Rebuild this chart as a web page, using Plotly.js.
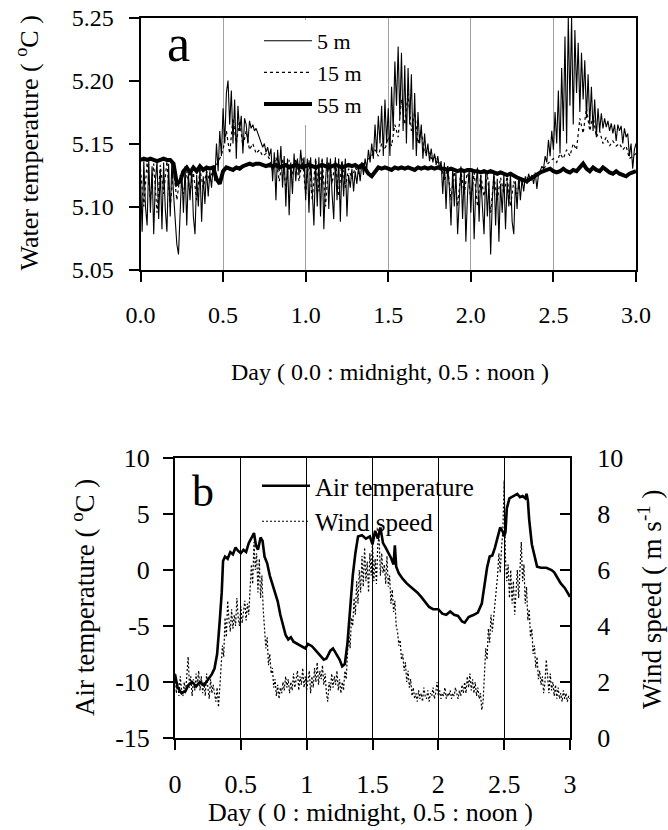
<!DOCTYPE html>
<html><head><meta charset="utf-8">
<script src="https://cdn.plot.ly/plotly-3.0.1.min.js"></script>
<style>html,body{margin:0;padding:0;background:#fff}#chart{width:668px;height:830px}</style>
</head><body><div id="chart"></div>
<script>
// ---------- Panel a: water temperature (deg C), sampled every 0.01 d (5 m) / 0.02 d (15 m, 55 m)
const temp5m = [
5.125,5.080,5.136,5.100,5.085,5.137,5.095,5.132,5.078,5.120,
5.136,5.090,5.130,5.082,5.135,5.098,5.080,5.134,5.092,5.136,
5.110,5.090,5.070,5.062,5.100,5.128,5.095,5.132,5.085,5.126,
5.105,5.130,5.092,5.078,5.125,5.100,5.131,5.088,5.124,5.102,
5.130,5.108,5.128,5.115,5.132,5.120,5.150,5.128,5.160,5.140,
5.178,5.150,5.190,5.200,5.165,5.192,5.150,5.185,5.138,5.180,
5.160,5.172,5.142,5.170,5.165,5.150,5.168,5.162,5.165,5.160,
5.162,5.158,5.155,5.150,5.147,5.150,5.143,5.147,5.140,5.146,
5.120,5.143,5.105,5.145,5.128,5.148,5.115,5.140,5.100,5.138,
5.093,5.135,5.110,5.142,5.120,5.138,5.125,5.145,5.130,5.139,
5.105,5.138,5.095,5.139,5.115,5.085,5.138,5.100,5.139,5.092,
5.138,5.082,5.120,5.139,5.098,5.138,5.110,5.090,5.139,5.105,
5.138,5.088,5.136,5.108,5.138,5.092,5.125,5.115,5.130,5.112,
5.128,5.118,5.132,5.120,5.135,5.125,5.138,5.130,5.145,5.135,
5.150,5.138,5.165,5.142,5.172,5.150,5.180,5.140,5.185,5.150,
5.178,5.140,5.195,5.160,5.215,5.180,5.227,5.170,5.222,5.160,
5.212,5.150,5.210,5.165,5.205,5.145,5.190,5.140,5.175,5.150,
5.165,5.138,5.158,5.140,5.150,5.136,5.146,5.135,5.142,5.133,
5.140,5.130,5.136,5.110,5.135,5.098,5.132,5.115,5.085,5.130,
5.100,5.127,5.078,5.108,5.132,5.090,5.128,5.072,5.110,5.130,
5.095,5.129,5.074,5.115,5.131,5.088,5.125,5.100,5.078,5.128,
5.092,5.120,5.062,5.105,5.128,5.085,5.122,5.072,5.118,5.095,
5.126,5.082,5.120,5.100,5.126,5.088,5.078,5.120,5.098,5.124,
5.105,5.122,5.112,5.124,5.118,5.126,5.121,5.125,5.118,5.127,
5.114,5.126,5.128,5.132,5.130,5.140,5.135,5.153,5.140,5.160,
5.145,5.175,5.150,5.192,5.142,5.210,5.160,5.235,5.150,5.250,
5.180,5.250,5.165,5.240,5.190,5.230,5.175,5.222,5.185,5.216,
5.170,5.205,5.165,5.195,5.160,5.185,5.155,5.178,5.160,5.174,
5.162,5.170,5.163,5.168,5.160,5.166,5.158,5.165,5.152,5.165,
5.160,5.164,5.150,5.162,5.155,5.158,5.140,5.150,5.130,5.145,
5.150];
const temp15m = [
5.130,5.100,5.135,5.105,5.134,5.095,5.133,5.110,5.136,5.100,
5.130,5.105,5.125,5.110,5.128,5.112,5.127,5.105,5.129,5.115,
5.128,5.120,5.130,5.133,5.138,5.145,5.160,5.142,5.170,5.150,
5.168,5.148,5.160,5.145,5.150,5.142,5.145,5.140,5.142,5.138,
5.128,5.139,5.120,5.138,5.115,5.137,5.125,5.138,5.120,5.138,
5.110,5.137,5.105,5.138,5.112,5.137,5.100,5.136,5.118,5.137,
5.108,5.136,5.115,5.130,5.122,5.131,5.126,5.133,5.135,5.138,
5.140,5.145,5.140,5.150,5.145,5.155,5.148,5.165,5.155,5.185,
5.165,5.190,5.160,5.175,5.150,5.160,5.142,5.145,5.138,5.140,
5.135,5.134,5.120,5.132,5.105,5.130,5.100,5.128,5.110,5.129,
5.105,5.127,5.100,5.125,5.108,5.126,5.095,5.124,5.105,5.123,
5.110,5.124,5.100,5.120,5.110,5.122,5.118,5.123,5.120,5.124,
5.125,5.128,5.130,5.133,5.136,5.138,5.135,5.142,5.138,5.145,
5.140,5.150,5.145,5.170,5.158,5.178,5.160,5.172,5.155,5.160,
5.150,5.155,5.148,5.152,5.148,5.150,5.145,5.148,5.138,5.140,
5.142];
const temp55m = [
5.137,5.138,5.137,5.138,5.137,5.136,5.137,5.138,5.137,5.137,
5.134,5.118,5.120,5.128,5.131,5.127,5.131,5.128,5.132,5.129,
5.131,5.130,5.131,5.122,5.118,5.128,5.131,5.130,5.129,5.131,
5.130,5.132,5.133,5.134,5.133,5.134,5.134,5.133,5.132,5.133,
5.132,5.133,5.131,5.132,5.133,5.131,5.132,5.133,5.132,5.131,
5.132,5.133,5.132,5.131,5.132,5.133,5.132,5.131,5.132,5.133,
5.132,5.131,5.132,5.133,5.132,5.133,5.131,5.133,5.130,5.126,
5.124,5.128,5.131,5.130,5.131,5.130,5.129,5.131,5.130,5.131,
5.130,5.131,5.130,5.129,5.131,5.130,5.131,5.130,5.131,5.130,
5.131,5.130,5.130,5.129,5.130,5.129,5.128,5.129,5.128,5.129,
5.129,5.128,5.128,5.127,5.128,5.127,5.128,5.127,5.126,5.127,
5.126,5.125,5.126,5.124,5.123,5.122,5.121,5.120,5.122,5.124,
5.126,5.127,5.128,5.129,5.130,5.128,5.127,5.128,5.130,5.128,
5.127,5.129,5.128,5.131,5.134,5.130,5.128,5.131,5.129,5.128,
5.131,5.129,5.127,5.126,5.128,5.126,5.125,5.124,5.126,5.127,
5.128];

// ---------- Panel b: air temperature (deg C) and wind speed (m/s)
const airDay = [0,0.02,0.05,0.08,0.10,0.13,0.16,0.19,0.22,0.25,0.28,0.30,0.32,0.34,0.355,0.365,0.38,0.40,0.42,0.44,
0.46,0.48,0.50,0.52,0.54,0.56,0.58,0.60,0.615,0.63,0.65,0.665,0.68,0.70,0.72,0.74,0.76,0.78,0.80,0.82,
0.84,0.86,0.88,0.90,0.93,0.96,0.99,1.01,1.04,1.07,1.10,1.13,1.15,1.18,1.20,1.22,1.25,1.27,1.29,1.31,
1.33,1.35,1.37,1.39,1.42,1.45,1.48,1.50,1.52,1.54,1.56,1.58,1.60,1.62,1.64,1.66,1.67,1.68,1.70,1.73,
1.76,1.80,1.84,1.87,1.90,1.93,1.96,2.00,2.03,2.06,2.09,2.12,2.15,2.18,2.20,2.23,2.27,2.30,2.33,2.35,
2.37,2.39,2.41,2.43,2.45,2.47,2.49,2.50,2.51,2.52,2.54,2.57,2.60,2.62,2.64,2.66,2.67,2.68,2.69,2.71,
2.73,2.75,2.78,2.82,2.86,2.88,2.90,2.93,2.96,2.98,3.00];
const airTemp = [-9.3,-10.5,-11.0,-10.8,-10.3,-10.0,-10.4,-10.0,-10.3,-9.8,-9.3,-8.8,-7.5,-4.5,-2.0,0.8,1.2,1.0,1.6,1.4,
2.0,1.7,1.5,1.8,1.6,2.4,2.8,3.3,2.2,1.8,2.9,2.6,1.2,0.6,-0.5,-1.3,-2.0,-2.8,-4.0,-5.0,
-5.8,-6.2,-6.0,-6.4,-6.6,-6.8,-7.0,-6.6,-6.8,-7.2,-7.6,-8.0,-7.9,-7.2,-7.0,-7.4,-8.0,-8.6,-8.4,-6.5,
-3.5,-0.5,1.5,3.0,3.1,2.8,3.0,2.3,3.5,2.8,3.8,2.4,2.0,1.6,1.1,0.5,2.2,0.3,-0.3,-0.8,
-1.2,-1.6,-2.0,-2.4,-2.8,-3.3,-3.5,-3.5,-3.9,-4.0,-3.7,-4.0,-4.1,-4.6,-4.7,-4.2,-4.0,-3.8,-3.0,-1.5,
0.2,1.2,1.3,2.0,3.0,3.8,3.4,3.0,3.4,5.5,6.4,6.6,6.8,6.5,6.6,6.4,6.8,6.2,4.5,2.3,
1.2,0.3,0.2,0.2,0.0,-0.2,-0.6,-1.2,-1.6,-2.0,-2.4];
// wind speed, sampled every 0.01 d
const windSpeed = [
2.3,1.6,2.0,1.5,2.2,1.7,1.5,2.0,1.6,2.4,
2.9,1.8,2.2,1.5,2.1,1.7,2.3,1.9,2.4,1.7,
2.2,1.6,2.0,1.5,2.3,1.8,1.4,2.1,1.6,1.9,
1.5,1.3,1.8,1.1,1.8,2.4,3.3,2.9,4.3,3.6,
4.9,4.2,3.8,4.6,3.9,4.4,4.0,5.0,4.3,4.0,
4.7,4.1,4.5,4.9,4.2,4.8,4.4,5.4,6.2,5.5,
7.0,6.0,6.6,5.2,6.4,5.0,5.8,4.6,4.0,3.2,
3.6,2.6,3.0,2.3,2.5,1.8,2.1,1.5,1.9,1.4,
1.8,1.6,2.0,1.7,2.2,1.8,2.1,1.6,2.0,1.7,
2.3,1.8,2.1,2.4,1.7,2.2,1.9,2.5,1.8,2.2,
1.7,2.0,2.4,1.6,2.2,1.8,2.5,2.0,2.7,1.9,
2.4,2.1,2.6,1.9,2.3,1.6,1.3,2.0,1.7,2.3,
1.8,2.2,1.9,2.4,1.7,2.1,1.6,2.0,1.7,2.4,
2.1,3.0,3.8,3.2,4.3,4.0,5.0,4.4,5.6,4.8,
6.0,5.2,6.5,5.4,6.8,5.6,6.3,5.2,6.6,5.8,
7.0,5.6,6.4,5.5,6.9,7.2,5.8,6.6,5.9,6.2,
5.5,6.5,5.4,5.8,4.8,5.3,4.5,4.9,4.0,3.8,
3.3,3.5,2.8,3.0,2.4,2.7,2.0,2.4,1.8,2.1,
1.5,1.8,1.4,1.6,1.3,1.7,1.4,1.6,1.3,1.8,
1.5,1.4,1.7,1.3,1.6,1.5,1.8,1.4,1.6,2.0,
1.5,1.7,1.4,1.6,1.5,1.8,1.4,1.6,1.5,1.7,
1.4,1.6,1.5,1.8,1.6,1.4,1.7,1.5,1.9,1.6,
2.0,1.6,2.2,1.8,2.3,1.7,2.1,1.6,2.0,1.5,
1.8,1.4,1.6,1.0,1.3,2.6,3.2,2.8,3.9,3.4,
4.4,3.8,4.2,4.8,5.3,5.8,6.6,5.9,6.8,7.4,
9.2,6.4,5.6,6.2,5.0,6.0,4.8,5.6,4.4,5.2,
6.0,5.0,6.4,7.0,5.6,6.2,4.8,5.4,4.2,4.6,
3.6,3.9,3.0,3.3,2.5,2.9,2.1,2.4,1.9,2.2,
1.6,2.0,2.8,2.0,1.6,2.3,1.7,2.0,1.5,1.9,
1.4,1.8,1.4,1.6,1.3,1.7,1.4,1.6,1.3,1.5,
1.4];

// tick labels
const airTickVals = [-15,-10,-5,0,5,10];
const airTickText = ['-15','-10','-5','0','5','10'];

const F = '"Liberation Serif", "Times New Roman", Times, serif';

const traces = [
  {x0:0, dx:0.01, y:temp5m, name:'5 m', type:'scatter', mode:'lines', xaxis:'x', yaxis:'y',
   line:{color:'#000', width:1.1}, legend:'legend'},
  {x0:0, dx:0.02, y:temp15m, name:'15 m', type:'scatter', mode:'lines', xaxis:'x', yaxis:'y',
   line:{color:'#000', width:1.2, dash:'dot'}, legend:'legend'},
  {x0:0, dx:0.02, y:temp55m, name:'55 m', type:'scatter', mode:'lines', xaxis:'x', yaxis:'y',
   line:{color:'#000', width:4}, legend:'legend'},
  {x:airDay, y:airTemp, name:'Air temperature', type:'scatter', mode:'lines', xaxis:'x2', yaxis:'y2',
   line:{color:'#000', width:2.6}, legend:'legend2'},
  {x0:0, dx:0.01, y:windSpeed, name:'Wind speed', type:'scatter', mode:'lines', xaxis:'x2', yaxis:'y3',
   line:{color:'#000', width:1.2, dash:'2px,2px'}, legend:'legend2'}
];

function px(x){return x/668;}
function py(y){return 1 - y/830;}

const layout = {
  width:668, height:830,
  margin:{l:0,r:0,t:0,b:0},
  paper_bgcolor:'#fff', plot_bgcolor:'rgba(0,0,0,0)',
  font:{family:F, color:'#000', size:24},
  showlegend:true,
  xaxis:{domain:[px(140.5), px(636)], anchor:'y', range:[0,3], dtick:0.5, tick0:0, tickformat:'.1f',
    ticks:'outside', ticklen:10, tickwidth:2, tickcolor:'#000',
    showline:true, linewidth:2, linecolor:'#000', mirror:true,
    showgrid:true, gridcolor:'#8a8a8a', gridwidth:0.8, zeroline:false,
    tickfont:{family:F, size:24}, ticklabelstandoff:13, fixedrange:true},
  yaxis:{domain:[py(269.5), py(17.5)], anchor:'x', range:[5.05,5.25], dtick:0.05, tick0:5.05, tickformat:'.2f',
    ticks:'outside', ticklen:10, tickwidth:2, tickcolor:'#000',
    showline:true, linewidth:2, linecolor:'#000', mirror:true,
    showgrid:false, zeroline:false, tickfont:{family:F, size:24}, ticklabelstandoff:10, fixedrange:true},
  xaxis2:{domain:[px(175), px(570)], anchor:'y2', range:[0,3], dtick:0.5, tick0:0,
    ticks:'outside', ticklen:10, tickwidth:2, tickcolor:'#000',
    showline:true, linewidth:2, linecolor:'#000', mirror:true,
    showgrid:true, gridcolor:'#000', gridwidth:1.3, zeroline:false,
    tickfont:{family:F, size:26}, ticklabelstandoff:12, fixedrange:true},
  yaxis2:{domain:[py(738), py(458)], anchor:'x2', range:[-15,10], tickvals:airTickVals, ticktext:airTickText,
    ticks:'outside', ticklen:10, tickwidth:2, tickcolor:'#000',
    showline:true, linewidth:2, linecolor:'#000', mirror:false,
    showgrid:false, zeroline:false, tickfont:{family:F, size:26}, ticklabelstandoff:8, fixedrange:true},
  yaxis3:{overlaying:'y2', side:'right', anchor:'x2', range:[0,10], dtick:2, tick0:0,
    ticks:'inside', ticklen:10, tickwidth:2, tickcolor:'#000',
    showline:true, linewidth:2, linecolor:'#000',
    showgrid:false, zeroline:false, tickfont:{family:F, size:26}, ticklabelstandoff:20, fixedrange:true},
  legend:{x:px(259), xanchor:'left', y:py(20), yanchor:'top', bgcolor:'#fff', borderwidth:0,
    font:{family:F, size:22}, itemwidth:48, tracegroupgap:0, traceorder:'normal'},
  legend2:{x:px(257), xanchor:'left', y:py(463), yanchor:'top', bgcolor:'rgba(0,0,0,0)', borderwidth:0,
    font:{family:F, size:25}, itemwidth:48, tracegroupgap:0, traceorder:'normal'},
  annotations:[
    {text:'a', xref:'paper', yref:'paper', x:px(178), y:py(44), xanchor:'center', yanchor:'middle',
     showarrow:false, font:{family:F, size:52}},
    {text:'b', xref:'paper', yref:'paper', x:px(203), y:py(491), xanchor:'center', yanchor:'middle',
     showarrow:false, font:{family:F, size:44}},
    {text:'Day ( 0.0 : midnight, 0.5 : noon )', xref:'paper', yref:'paper', x:px(390), y:py(372),
     xanchor:'center', yanchor:'middle', showarrow:false, font:{family:F, size:24}},
    {text:'Water temperature ( <sup>o</sup>C )', xref:'paper', yref:'paper', x:px(28), y:py(143.5),
     xanchor:'center', yanchor:'middle', textangle:-90, showarrow:false, font:{family:F, size:26}},
    {text:'Day ( 0 : midnight, 0.5 : noon )', xref:'paper', yref:'paper', x:px(370), y:py(812),
     xanchor:'center', yanchor:'middle', showarrow:false, font:{family:F, size:26}},
    {text:'Air temperature ( <sup>o</sup>C )', xref:'paper', yref:'paper', x:px(83), y:py(598),
     xanchor:'center', yanchor:'middle', textangle:-90, showarrow:false, font:{family:F, size:27}},
    {text:'Wind speed ( m s<sup>-1</sup> )', xref:'paper', yref:'paper', x:px(650), y:py(600),
     xanchor:'center', yanchor:'middle', textangle:-90, showarrow:false, font:{family:F, size:27}}
  ]
};

Plotly.newPlot('chart', traces, layout, {displayModeBar:false, staticPlot:true});
</script></body></html>
